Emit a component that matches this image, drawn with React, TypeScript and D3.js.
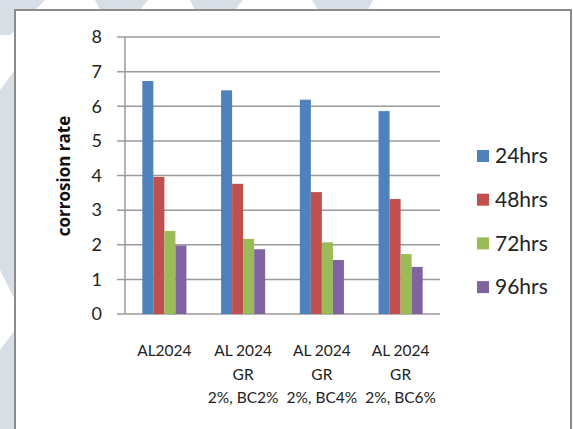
import React from "react";
import * as d3 from "d3";

const categories: string[][] = [
  ["AL2024"],
  ["AL 2024", "GR", "2%, BC2%"],
  ["AL 2024", "GR", "2%, BC4%"],
  ["AL 2024", "GR", "2%, BC6%"],
];
const seriesNames = ["24hrs", "48hrs", "72hrs", "96hrs"];
const seriesColors = ["#4F81BD", "#C0504D", "#9BBB59", "#8064A2"];
const hrs24 = [6.73, 6.46, 6.19, 5.86];
const hrs48 = [3.96, 3.76, 3.52, 3.32];
const hrs72 = [2.4, 2.17, 2.07, 1.73];
const hrs96 = [1.98, 1.87, 1.56, 1.36];
const seriesValues = [hrs24, hrs48, hrs72, hrs96];
const yTicks = [0, 1, 2, 3, 4, 5, 6, 7, 8];
const yTitle = "corrosion rate";

const W = 573;
const H = 429;
const FONT = "Lato, 'Open Sans', sans-serif";

export default function App() {
  const x0 = d3
    .scaleBand<number>()
    .domain(d3.range(categories.length))
    .range([125, 440])
    .paddingInner(0.44)
    .paddingOuter(0.22);
  const x1 = d3
    .scaleBand<number>()
    .domain(d3.range(seriesNames.length))
    .range([0, x0.bandwidth()]);
  const y = d3.scaleLinear().domain([0, 8]).range([314, 37]);
  const left = 125;
  const right = 440;

  const stripes = [
    "M0,0 L45,0 L10,35 L0,35 Z",
    "M95,0 L148,0 L140,10 L100,10 Z",
    "M190,0 L243,0 L235,10 L195,10 Z",
    "M312,0 L373,0 L368,10 L318,10 Z",
    "M0,90 L15,70 L15,300 L0,270 Z",
    "M0,350 L15,330 L15,429 L0,429 Z",
  ];

  return (
    <svg width={W} height={H} style={{ position: "absolute", left: 0, top: 0, display: "block" }}>
      <rect x={0} y={0} width={W} height={H} fill="#ffffff" />
      {stripes.map((d, i) => (
        <path key={i} d={d} fill="#d7dee6" />
      ))}
      <rect x={15} y={10} width={556} height={430} fill="#ffffff" stroke="#8c8c8c" strokeWidth={2} />

      {/* gridlines */}
      {yTicks.map((t) => (
        <line key={t} x1={117} x2={right} y1={y(t)} y2={y(t)} stroke="#9a9a9a" strokeWidth={1.5} />
      ))}
      <line x1={left} x2={left} y1={y(8)} y2={y(0)} stroke="#9a9a9a" strokeWidth={1.5} />

      {/* y tick labels */}
      {yTicks.map((t) => (
        <text key={t} x={102} y={y(t)} dy="0.35em" textAnchor="end" fontFamily={FONT} fontSize={18} fill="#222">
          {t}
        </text>
      ))}

      {/* y title */}
      <text
        transform={`translate(70,176) rotate(-90)`}
        textAnchor="middle"
        fontFamily="'Open Sans', sans-serif"
        fontWeight="bold"
        fontSize={17}
        fill="#111"
      >
        {yTitle}
      </text>

      {/* bars */}
      {seriesValues.map((vals, s) =>
        vals.map((v, c) => (
          <rect
            key={`${s}-${c}`}
            x={(x0(c) ?? 0) + (x1(s) ?? 0)}
            y={y(v)}
            width={x1.bandwidth()}
            height={y(0) - y(v)}
            fill={seriesColors[s]}
          />
        ))
      )}

      {/* x labels */}
      {categories.map((lines, c) => (
        <text key={c} textAnchor="middle" fontFamily={FONT} fontSize={15.5} fill="#222">
          {lines.map((ln, i) => (
            <tspan key={i} x={(x0(c) ?? 0) + x0.bandwidth() / 2} y={356 + i * 23.5}>
              {ln}
            </tspan>
          ))}
        </text>
      ))}

      {/* legend */}
      {seriesNames.map((n, i) => (
        <g key={n} transform={`translate(477,${156 + i * 43.7})`}>
          <rect x={0} y={-6} width={12} height={12} fill={seriesColors[i]} />
          <text x={18} y={0} dy="0.35em" fontFamily={FONT} fontSize={21} fill="#222">
            {n}
          </text>
        </g>
      ))}
    </svg>
  );
}
